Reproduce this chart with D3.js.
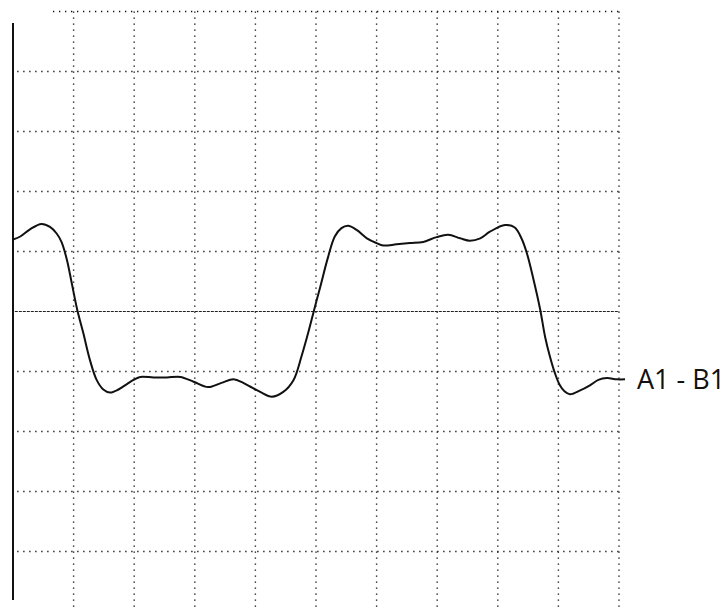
<!DOCTYPE html>
<html lang="en">
<head>
  <meta charset="UTF-8">
  <title>A1 - B1 waveform</title>
  <script src="https://d3js.org/d3.v7.min.js"></script>
  <style>
    body { margin: 0; background: #fff; }
    .grid line { stroke: #111; stroke-width: 1.4; stroke-dasharray: 1.3 4.7; }
    .center { stroke: #222; stroke-width: 1.1; stroke-dasharray: 3 1; }
    .axis { stroke: #111; stroke-width: 2; }
    .trace { fill: none; stroke: #111; stroke-width: 2; stroke-linejoin: round; }
    .label { font-family: 'Open Sans', sans-serif; font-size: 27px; fill: #111; }
  </style>
</head>
<body>
  <div id="chart"></div>
  <script>
    // grid divisions (time and amplitude, in divisions)
    const xDivs = d3.range(1, 11);
    const yDivs = [-4, -3, -2, -1, 1, 2, 3, 4, 5];

    // trace A1 - B1 (div units)
    const traceT = [0.0, 0.12, 0.28, 0.47, 0.61, 0.72, 0.80, 0.89, 0.97, 1.06, 1.16, 1.27, 1.38, 1.49, 1.60,
      1.74, 1.88, 1.99, 2.10, 2.32, 2.54, 2.76, 2.98, 3.22, 3.44, 3.64, 3.80, 3.91, 4.08, 4.27, 4.46,
      4.63, 4.76, 4.87, 4.97, 5.07, 5.20, 5.31, 5.42, 5.53, 5.67, 5.84, 6.00, 6.11, 6.33, 6.55, 6.77,
      6.99, 7.18, 7.38, 7.54, 7.71, 7.87, 8.12, 8.28, 8.39, 8.48, 8.59, 8.70, 8.78, 8.86, 8.94, 9.02,
      9.10, 9.19, 9.35, 9.52, 9.66, 9.80, 9.96, 10.10];
    const traceV = [1.20, 1.25, 1.37, 1.46, 1.41, 1.30, 1.16, 0.86, 0.47, 0.03, -0.36, -0.81, -1.14, -1.30, -1.35,
      -1.30, -1.21, -1.14, -1.09, -1.10, -1.10, -1.09, -1.17, -1.26, -1.19, -1.13, -1.19, -1.25, -1.34, -1.42, -1.34,
      -1.14, -0.75, -0.36, 0.03, 0.41, 0.91, 1.25, 1.39, 1.43, 1.36, 1.22, 1.14, 1.10, 1.12, 1.14, 1.16,
      1.24, 1.28, 1.22, 1.18, 1.22, 1.33, 1.44, 1.40, 1.22, 0.97, 0.53, 0.03, -0.42, -0.75, -1.02, -1.22,
      -1.33, -1.38, -1.32, -1.23, -1.14, -1.11, -1.13, -1.13];
    const traceName = "A1 - B1";

    const width = 725, height = 610;
    const x = d3.scaleLinear().domain([0, 10]).range([13, 619]);
    const y = d3.scaleLinear().domain([-5, 5]).range([611.5, 11.5]);

    const svg = d3.select("#chart").append("svg")
      .attr("width", width)
      .attr("height", height);

    const grid = svg.append("g").attr("class", "grid");

    // vertical dotted lines
    grid.selectAll(".v")
      .data(xDivs)
      .join("line")
      .attr("x1", d => x(d)).attr("x2", d => x(d))
      .attr("y1", y(5)).attr("y2", 610);

    // horizontal dotted lines (top one starts a bit in)
    grid.selectAll(".h")
      .data(yDivs)
      .join("line")
      .attr("x1", d => d === 5 ? x(0.66) : x(0.07))
      .attr("x2", x(10))
      .attr("y1", d => y(d)).attr("y2", d => y(d));

    // center reference line
    svg.append("line")
      .attr("class", "center")
      .attr("x1", x(0.03)).attr("x2", x(10))
      .attr("y1", y(0)).attr("y2", y(0));

    // left axis
    svg.append("line")
      .attr("class", "axis")
      .attr("x1", x(0)).attr("x2", x(0))
      .attr("y1", 23).attr("y2", 600);

    const pts = traceT.map((t, i) => [t, traceV[i]]);
    const line = d3.line()
      .x(d => x(d[0]))
      .y(d => y(d[1]))
      .curve(d3.curveCatmullRom.alpha(0.5));

    svg.append("path")
      .datum(pts)
      .attr("class", "trace")
      .attr("d", line);

    const last = pts[pts.length - 1];
    svg.append("text")
      .attr("class", "label")
      .attr("x", x(last[0]) + 12)
      .attr("y", y(last[1]) + 10)
      .text(traceName);
  </script>
</body>
</html>
